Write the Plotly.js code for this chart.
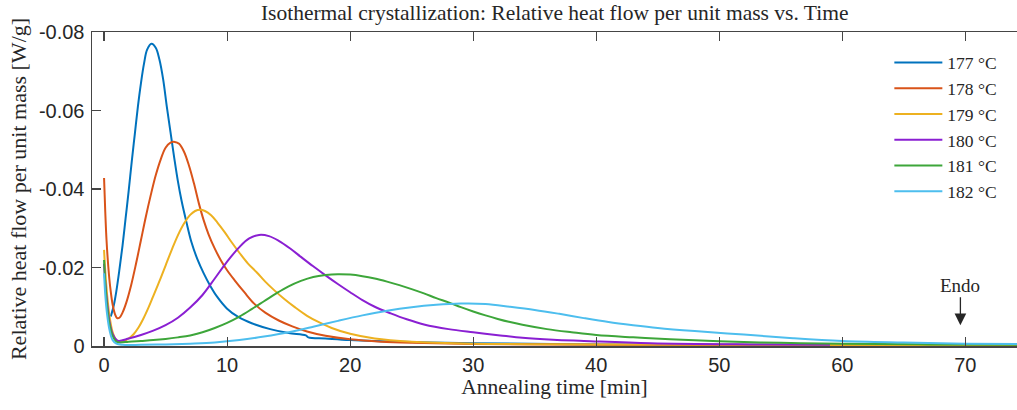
<!DOCTYPE html>
<html>
<head>
<meta charset="utf-8">
<script src="https://cdn.plot.ly/plotly-3.0.1.min.js"></script>
<style>html,body{margin:0;padding:0;overflow:hidden;background:#fff;}#chart{width:1017px;height:410px;}</style>
</head>
<body>
<div id="chart"></div>
<script>
// ---- Data (time in min, heat flow in W/g, negative = exothermic) ----
const seriesNames = ["177 °C", "178 °C", "179 °C", "180 °C", "181 °C", "182 °C"];
const seriesColors = ["#0072BD", "#D95319", "#EDB120", "#8A1FD2", "#3DA63A", "#4DBEEE"];

const t177 = [0.55, 0.8, 1.0, 1.25, 1.5, 1.75, 2.0, 2.25, 2.5, 2.75, 3.0, 3.25, 3.5, 3.85, 4.2, 4.5, 4.8, 5.1, 5.4, 5.7, 6.0, 6.3, 6.7, 7.1, 7.6, 8.1, 8.6, 9.2, 10.0, 10.9, 12.0, 13.5, 15.0, 16.4, 16.6, 18, 20, 25, 30, 40, 55, 75];
const v177 = [-0.0075, -0.0105, -0.0140, -0.0195, -0.0255, -0.0325, -0.0395, -0.0470, -0.0540, -0.0610, -0.0670, -0.0720, -0.0755, -0.0770, -0.0760, -0.0730, -0.0680, -0.0610, -0.0545, -0.0480, -0.0420, -0.0370, -0.0315, -0.0265, -0.0220, -0.0185, -0.0155, -0.0125, -0.0095, -0.0074, -0.0058, -0.0043, -0.0033, -0.0027, -0.0022, -0.0019, -0.0015, -0.0010, -0.0007, -0.0004, -0.0003, -0.0002];

const t178 = [0, 0.1, 0.2, 0.35, 0.5, 0.7, 0.9, 1.06, 1.25, 1.5, 1.8, 2.2, 2.6, 3.0, 3.4, 3.8, 4.2, 4.6, 5.0, 5.4, 5.75, 6.1, 6.5, 6.9, 7.3, 7.7, 8.1, 8.5, 9.0, 9.5, 10.0, 10.6, 11.4, 12.2, 13.1, 14.2, 15.3, 16.5, 18, 20, 22.5, 25, 30, 40, 75];
const v178 = [-0.0428, -0.0340, -0.0270, -0.0200, -0.0150, -0.0105, -0.0080, -0.0071, -0.0072, -0.0085, -0.0110, -0.0155, -0.0210, -0.0270, -0.0330, -0.0385, -0.0435, -0.0475, -0.0505, -0.0518, -0.0520, -0.0515, -0.0495, -0.0460, -0.0415, -0.0364, -0.0320, -0.0284, -0.0248, -0.0218, -0.0193, -0.0168, -0.0137, -0.0108, -0.0085, -0.0065, -0.0050, -0.0037, -0.0026, -0.0017, -0.0011, -0.0008, -0.0005, -0.0003, -0.0002];

const t179 = [0, 0.1, 0.25, 0.45, 0.7, 1.0, 1.3, 1.6, 2.0, 2.4, 2.8, 3.2, 3.6, 4.0, 4.5, 5.0, 5.5, 6.0, 6.5, 7.0, 7.4, 7.8, 8.2, 8.7, 9.2, 9.8, 10.4, 11.06, 11.7, 12.4, 13.1, 13.8, 14.6, 15.5, 16.5, 17.5, 18.5, 20, 22, 25, 30, 40, 75];
const v179 = [-0.0245, -0.0190, -0.0130, -0.0075, -0.0035, -0.0015, -0.0010, -0.0012, -0.0019, -0.0030, -0.0047, -0.0070, -0.0097, -0.0127, -0.0165, -0.0205, -0.0245, -0.0282, -0.0312, -0.0334, -0.0344, -0.0347, -0.0344, -0.0333, -0.0315, -0.0290, -0.0263, -0.0235, -0.0210, -0.0188, -0.0164, -0.0143, -0.0121, -0.0099, -0.0077, -0.0060, -0.0046, -0.0031, -0.0019, -0.0011, -0.0006, -0.0004, -0.0002];

const t180 = [0, 0.1, 0.25, 0.45, 0.7, 1.0, 1.2, 2, 3, 4, 5, 6, 7, 8, 9, 10, 11, 11.8, 12.6, 13.4, 14.2, 15.1, 16, 17, 18, 19, 20, 21, 22, 23.3, 24.6, 26, 28, 30, 32.2, 34, 36.5, 39, 44.4, 52.5, 59];
const v180 = [-0.0210, -0.0160, -0.0110, -0.0060, -0.0030, -0.0016, -0.0013, -0.0019, -0.0028, -0.0039, -0.0053, -0.0072, -0.0098, -0.0130, -0.0172, -0.0215, -0.0252, -0.0274, -0.0283, -0.0280, -0.0268, -0.0249, -0.0227, -0.0203, -0.0180, -0.0158, -0.0137, -0.0117, -0.0100, -0.0083, -0.0068, -0.0055, -0.0043, -0.0035, -0.0027, -0.0021, -0.0016, -0.0013, -0.0007, -0.0004, -0.0003];

const t181 = [0, 0.1, 0.25, 0.45, 0.7, 1.0, 1.3, 2, 3, 4, 5, 6, 7, 8, 9, 10, 11, 12, 13, 14, 15, 16, 17, 18, 19, 20, 21, 22, 23, 24, 25, 26, 27, 28, 29, 30, 31, 32, 33, 34, 36, 38, 40, 43, 46, 50, 55, 60, 67, 75];
const v181 = [-0.0219, -0.0160, -0.0100, -0.0055, -0.0025, -0.0011, -0.0009, -0.0011, -0.0013, -0.0015, -0.0018, -0.0022, -0.0027, -0.0035, -0.0046, -0.0059, -0.0075, -0.0094, -0.0114, -0.0134, -0.0152, -0.0166, -0.0176, -0.0181, -0.0183, -0.0182, -0.0178, -0.0172, -0.0164, -0.0155, -0.0145, -0.0134, -0.0122, -0.0111, -0.0099, -0.0088, -0.0078, -0.0069, -0.0061, -0.0054, -0.0043, -0.0035, -0.0028, -0.0022, -0.0017, -0.0012, -0.0008, -0.0006, -0.0004, -0.0003];

const t182 = [0, 0.1, 0.25, 0.45, 0.7, 1.0, 1.5, 3, 5, 7, 9, 11, 13, 15, 17, 19, 21, 23, 25, 27, 29, 31, 33, 35, 37, 39, 41, 43, 45, 48, 52, 56, 60, 65, 70, 75];
const v182 = [-0.0185, -0.0130, -0.0080, -0.0040, -0.0015, -0.0006, -0.0003, -0.0003, -0.0004, -0.0006, -0.0009, -0.0015, -0.0024, -0.0035, -0.0049, -0.0064, -0.0078, -0.0090, -0.0099, -0.0105, -0.0108, -0.0107, -0.0100, -0.0092, -0.0082, -0.0071, -0.0061, -0.0053, -0.0046, -0.0038, -0.0029, -0.0020, -0.0013, -0.0009, -0.0006, -0.0005];

const xTickVals = [0, 10, 20, 30, 40, 50, 60, 70];
const yTickVals = [0, -0.02, -0.04, -0.06, -0.08];
const yTickText = ["0", "-0.02", "-0.04", "-0.06", "-0.08"];

const titleText = "Isothermal crystallization: Relative heat flow per unit mass vs. Time";
const xTitleText = "Annealing time [min]";
const yTitleText = "Relative heat flow per unit mass [W/g]";
const endoLabel = "Endo";
const endoX = 69.6;
const endoY = -0.0053;

// ---- Build traces ----
const times = [t177, t178, t179, t180, t181, t182];
const vals = [v177, v178, v179, v180, v181, v182];
const traces = seriesNames.map((name, i) => ({
  x: times[i], y: vals[i], name: name, type: "scatter", mode: "lines",
  line: {color: seriesColors[i], width: 2, shape: "spline", smoothing: 1}
}));

const serif = "Liberation Serif, Times New Roman, serif";
const sans = "Liberation Sans, Arial, sans-serif";
const axisColor = "#454545";
const textColor = "#262626";

const layout = {
  width: 1017, height: 410,
  margin: {l: 92, r: 0, t: 32, b: 64.3, pad: 0},
  paper_bgcolor: "#fff", plot_bgcolor: "#fff",
  showlegend: true,
  title: {text: titleText, x: 0.5454, xanchor: "center", y: 0.988, yanchor: "top",
          font: {family: serif, size: 21.5, color: textColor}},
  xaxis: {
    range: [-0.98, 74.2], tickvals: xTickVals, ticks: "inside", ticklen: 9, tickwidth: 1.2,
    tickcolor: axisColor, showline: true, linecolor: axisColor, linewidth: 1.5,
    mirror: "ticks", showgrid: false, zeroline: false,
    tickfont: {family: sans, size: 20, color: textColor},
    title: {text: xTitleText, font: {family: serif, size: 21.5, color: textColor}, standoff: 4}
  },
  yaxis: {
    range: [0, -0.08], tickvals: yTickVals, ticktext: yTickText, ticks: "inside", ticklen: 9, tickwidth: 1.2,
    tickcolor: axisColor, showline: true, linecolor: axisColor, linewidth: 1.5,
    mirror: false, showgrid: false, zeroline: false, ticklabelstandoff: 2,
    tickfont: {family: sans, size: 20, color: textColor},
    title: {text: yTitleText, font: {family: serif, size: 22, color: textColor}, standoff: 6}
  },
  legend: {x: 0.862, xanchor: "left", y: 0.96, yanchor: "top", bgcolor: "rgba(0,0,0,0)",
           itemwidth: 48, font: {family: serif, size: 17.5, color: textColor}, borderwidth: 0},
  annotations: [{
    x: endoX, y: endoY, xref: "x", yref: "y", text: endoLabel, showarrow: true,
    ax: 0, ay: -40, arrowhead: 2, arrowsize: 1.8, arrowwidth: 1.3, arrowcolor: textColor,
    font: {family: serif, size: 19, color: textColor}
  }]
};

Plotly.newPlot("chart", traces, layout, {displayModeBar: false, staticPlot: true});
</script>
</body>
</html>
